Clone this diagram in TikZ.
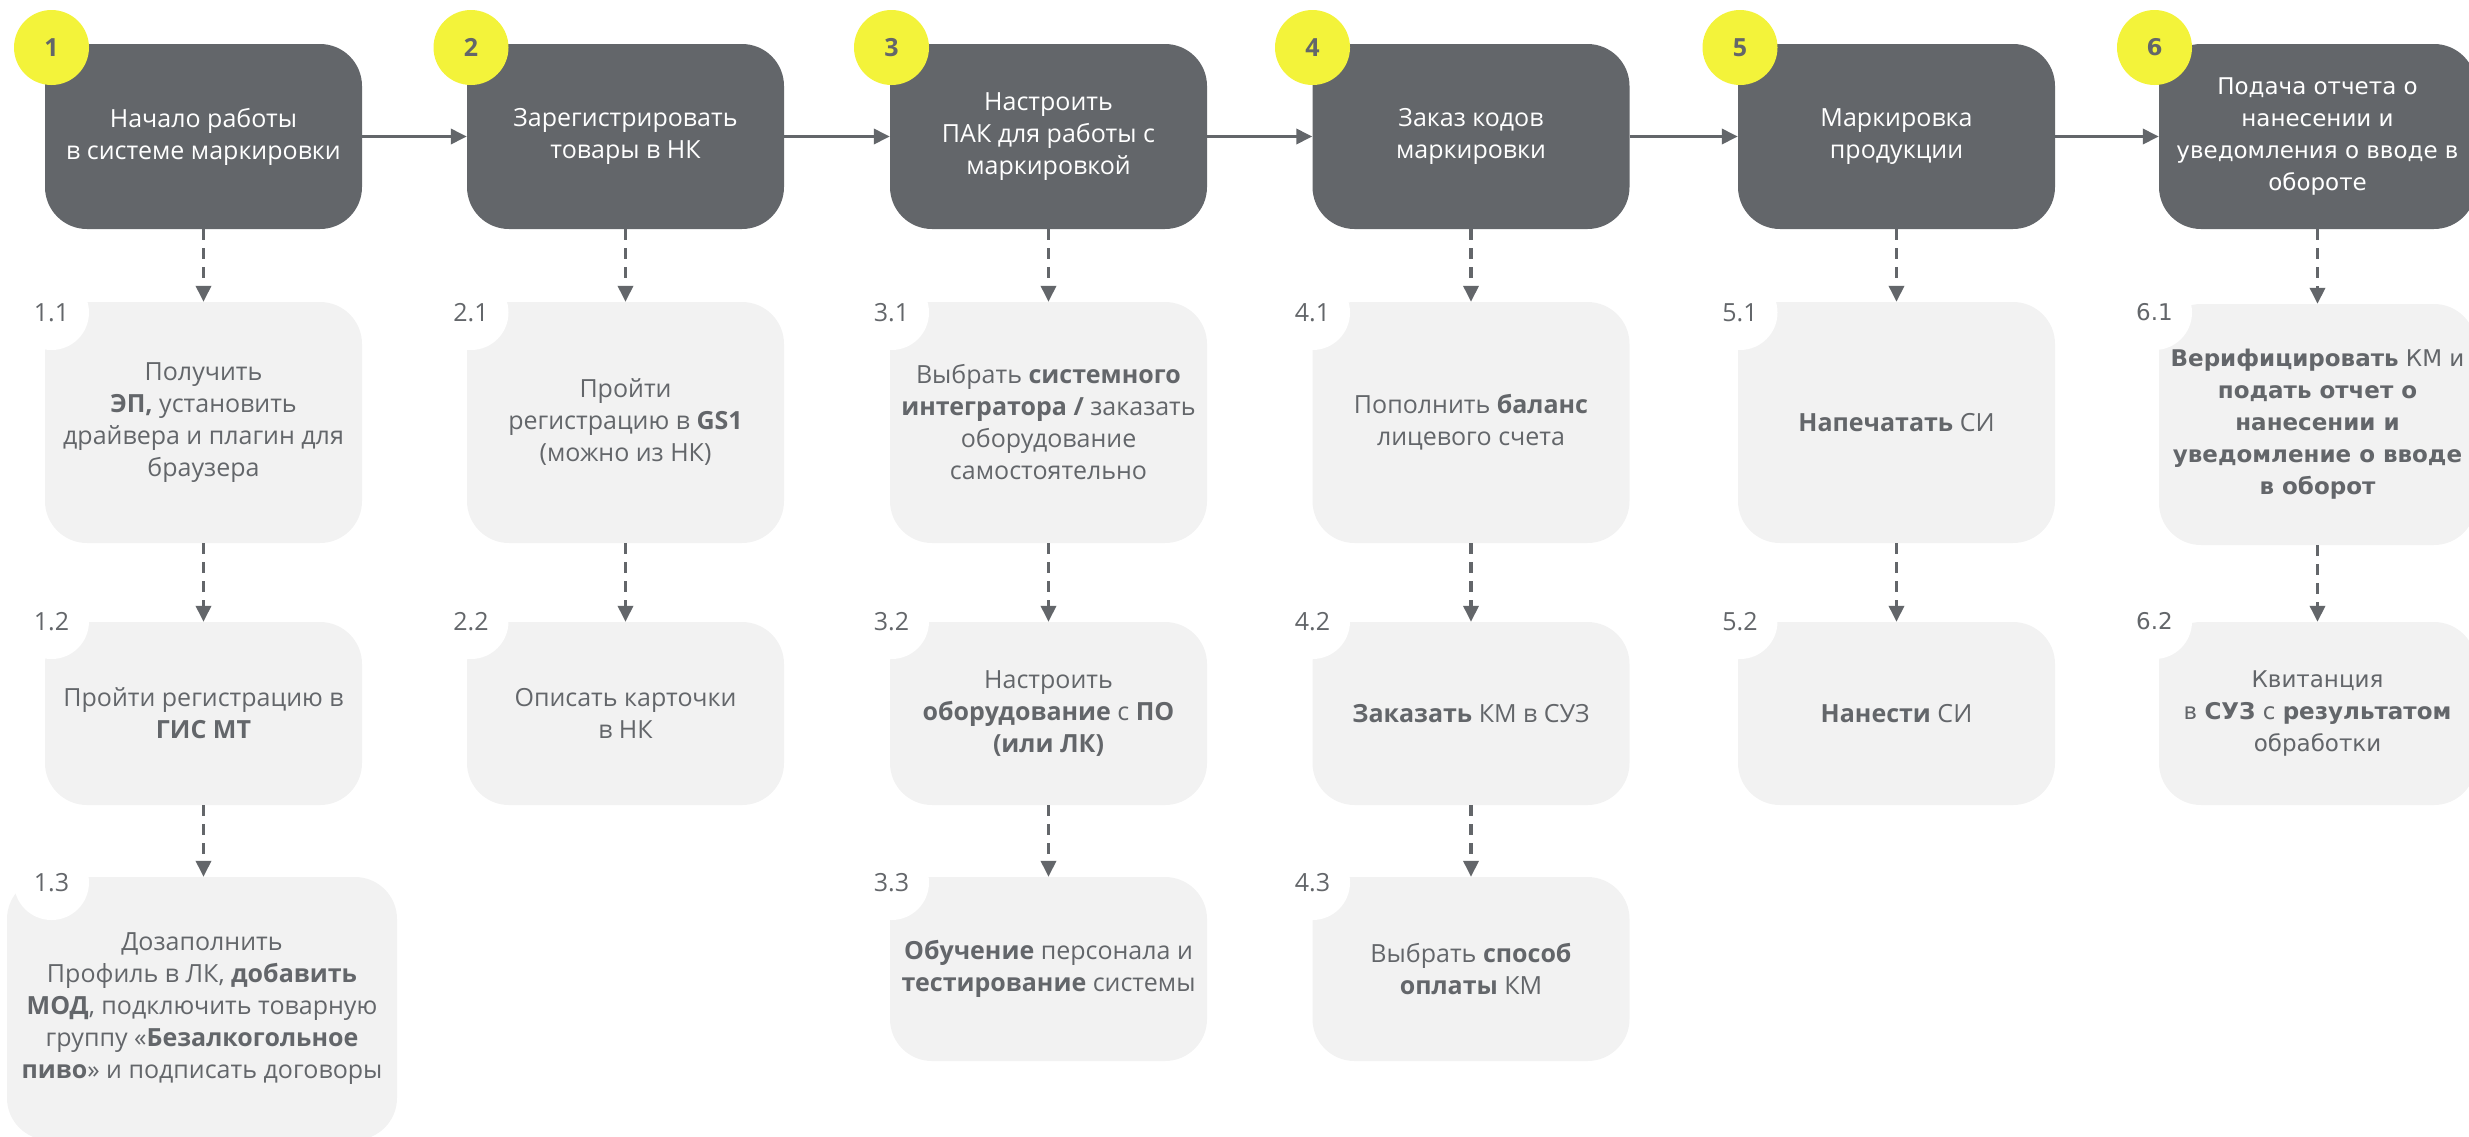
\documentclass[tikz,border=0pt]{standalone}
\usepackage{fontspec}
\setmainfont{Open Sans}
\newfontfamily\verd{DejaVu Sans}
\usetikzlibrary{arrows.meta}
\definecolor{dk}{HTML}{63666A}
\definecolor{lt}{HTML}{F2F2F2}
\definecolor{yl}{HTML}{F3F33A}
\tikzset{
  box/.style={rectangle, rounded corners=42pt, inner sep=0pt, align=center, minimum width=317pt},
  mainbox/.style={box, fill=dk, text=white, minimum height=185pt, font=\fontsize{25}{32}\selectfont},
  subbox/.style={box, fill=lt, text=dk, font=\fontsize{25}{32}\selectfont},
  vbox/.style={font=\verd\fontsize{23}{32}\selectfont},
  ybadge/.style={circle, fill=yl, minimum size=75pt, inner sep=0pt, text=dk, font=\bfseries\fontsize{25}{25}\selectfont},
  wbadge/.style={circle, fill=white, minimum size=75pt, inner sep=0pt, text=dk, font=\fontsize{25}{25}\selectfont},
  flow/.style={draw=dk, line width=3.5pt, -{Triangle[length=16pt,width=15pt]}},
  sflow/.style={draw=dk, line width=3.5pt, dash pattern=on 11pt off 8pt, -{Triangle[length=16pt,width=15pt]}},
}
\begin{document}
\begin{tikzpicture}[x=1pt,y=-1pt]
\useasboundingbox (0,0) rectangle (2469,1136);
\clip (0,0) rectangle (2469,1136);
% main boxes
\node[mainbox] (m1) at (203.5,136.5) {Начало работы\\в системе маркировки};
\node[mainbox] (m2) at (625.5,136.5) {Зарегистрировать\\товары в НК};
\node[mainbox] (m3) at (1048.5,136.5) {Настроить\\ПАК для работы с\\маркировкой};
\node[mainbox] (m4) at (1471,136.5) {Заказ кодов\\маркировки};
\node[mainbox] (m5) at (1896.5,136.5) {Маркировка\\продукции};
\node[mainbox, vbox] (m6) at (2317.5,136.5) {Подача отчета о\\нанесении и\\уведомления о вводе в\\обороте};
% row 1
\node[subbox, minimum height=241pt] (s11) at (203.5,422.5) {Получить\\\textbf{ЭП,} установить\\драйвера и плагин для\\браузера};
\node[subbox, minimum height=241pt] (s21) at (625.5,422.5) {Пройти\\регистрацию в \textbf{GS1}\\(можно из НК)};
\node[subbox, minimum height=241pt] (s31) at (1048.5,422.5) {Выбрать \textbf{системного}\\\textbf{интегратора /} заказать\\оборудование\\самостоятельно};
\node[subbox, minimum height=241pt] (s41) at (1471,422.5) {Пополнить \textbf{баланс}\\лицевого счета};
\node[subbox, minimum height=241pt] (s51) at (1896.5,422.5) {\textbf{Напечатать} СИ};
\node[subbox, vbox, minimum height=241pt] (s61) at (2317.5,424.5) {\textbf{Верифицировать} КМ и\\\textbf{подать отчет о}\\\textbf{нанесении и}\\\textbf{уведомление о вводе}\\\textbf{в оборот}};
% row 2
\node[subbox, minimum height=183pt] (s12) at (203.5,713.5) {Пройти регистрацию в\\\textbf{ГИС МТ}};
\node[subbox, minimum height=183pt] (s22) at (625.5,713.5) {Описать карточки\\в НК};
\node[subbox, minimum height=183pt] (s32) at (1048.5,713.5) {Настроить\\\textbf{оборудование} с \textbf{ПО}\\\textbf{(или ЛК)}};
\node[subbox, minimum height=183pt] (s42) at (1471,713.5) {\textbf{Заказать} КМ в СУЗ};
\node[subbox, minimum height=183pt] (s52) at (1896.5,713.5) {\textbf{Нанести} СИ};
\node[subbox, vbox, minimum height=183pt] (s62) at (2317.5,713.5) {Квитанция\\в \textbf{СУЗ} с \textbf{результатом}\\обработки};
% row 3
\node[subbox, minimum width=390pt, minimum height=263pt] (s13) at (202,1008.5) {Дозаполнить\\Профиль в ЛК, \textbf{добавить}\\\textbf{МОД}, подключить товарную\\группу «\textbf{Безалкогольное}\\\textbf{пиво}» и подписать договоры};
\node[subbox, minimum height=184pt] (s33) at (1048.5,969) {\textbf{Обучение} персонала и\\\textbf{тестирование} системы};
\node[subbox, minimum height=184pt] (s43) at (1471,969) {Выбрать \textbf{способ}\\\textbf{оплаты} КМ};
% badges
\node[ybadge] (y1) at (51.5,47.5) {1};
\node[ybadge] (y2) at (471,47.5) {2};
\node[ybadge] (y3) at (891.5,47.5) {3};
\node[ybadge] (y4) at (1312.5,47.5) {4};
\node[ybadge] (y5) at (1740,47.5) {5};
\node[ybadge, font=\verd\bfseries\fontsize{23}{23}\selectfont] (y6) at (2154.5,47.5) {6};
\node[wbadge] (w11) at (51.5,312.5) {1.1};
\node[wbadge] (w21) at (471,312.5) {2.1};
\node[wbadge] (w31) at (891.5,312.5) {3.1};
\node[wbadge] (w41) at (1312.5,312.5) {4.1};
\node[wbadge] (w51) at (1740,312.5) {5.1};
\node[wbadge, font=\verd\fontsize{23}{23}\selectfont] (w61) at (2154.5,312.5) {6.1};
\node[wbadge] (w12) at (51.5,621.5) {1.2};
\node[wbadge] (w22) at (471,621.5) {2.2};
\node[wbadge] (w32) at (891.5,621.5) {3.2};
\node[wbadge] (w42) at (1312.5,621.5) {4.2};
\node[wbadge] (w52) at (1740,621.5) {5.2};
\node[wbadge, font=\verd\fontsize{23}{23}\selectfont] (w62) at (2154.5,621.5) {6.2};
\node[wbadge] (w13) at (51.5,882.5) {1.3};
\node[wbadge] (w33) at (891.5,882.5) {3.3};
\node[wbadge] (w43) at (1312.5,882.5) {4.3};
% main flow
\draw[flow] (m1.east) -- (m2.west);
\draw[flow] (m2.east) -- (m3.west);
\draw[flow] (m3.east) -- (m4.west);
\draw[flow] (m4.east) -- (m5.west);
\draw[flow] (m5.east) -- (m6.west);
% sub flows
\draw[sflow] (m1.south) -- (s11.north);
\draw[sflow] (s11.south) -- (s12.north);
\draw[sflow] (s12.south) -- (s12.south |- s13.north);
\draw[sflow] (m2.south) -- (s21.north);
\draw[sflow] (s21.south) -- (s22.north);
\draw[sflow] (m3.south) -- (s31.north);
\draw[sflow] (s31.south) -- (s32.north);
\draw[sflow] (s32.south) -- (s33.north);
\draw[sflow] (m4.south) -- (s41.north);
\draw[sflow] (s41.south) -- (s42.north);
\draw[sflow] (s42.south) -- (s43.north);
\draw[sflow] (m5.south) -- (s51.north);
\draw[sflow] (s51.south) -- (s52.north);
\draw[sflow] (m6.south) -- (s61.north);
\draw[sflow] (s61.south) -- (s62.north);
\end{tikzpicture}
\end{document}
